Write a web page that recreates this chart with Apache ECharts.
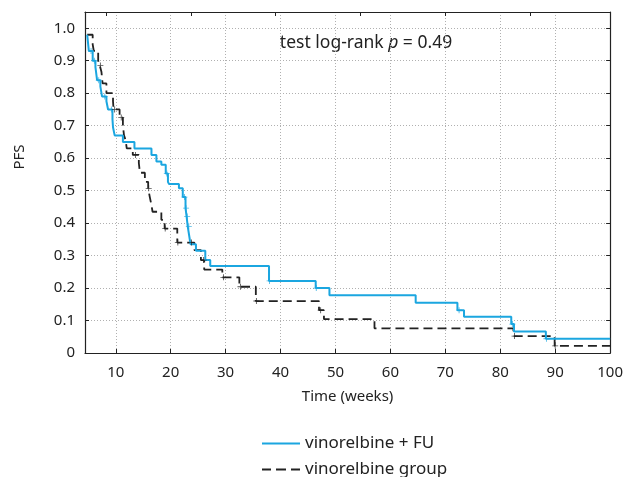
<!DOCTYPE html>
<html>
<head>
<meta charset="utf-8">
<script src="https://cdn.jsdelivr.net/npm/echarts@6/dist/echarts.min.js"></script>
<style>
html,body{margin:0;padding:0;background:#fff;}
#c{width:626px;height:477px;}
</style>
</head>
<body>
<div id="c"></div>
<script>
// ---- Data ----
var xTicks = [10, 20, 30, 40, 50, 60, 70, 80, 90, 100];
var yTicks = [0, 0.1, 0.2, 0.3, 0.4, 0.5, 0.6, 0.7, 0.8, 0.9, 1.0];
var topTicks = [8.3, 23.7, 39.1, 54.6, 70.0, 85.4];

var seriesNames = ['vinorelbine + FU', 'vinorelbine group'];

// Kaplan-Meier steps: [time (weeks), survival after event]
var comboTimes = [4.8, 5.1, 5.8, 6.3, 6.6, 7.2, 7.5, 8.3, 8.6, 9.4, 9.5, 9.8, 11.3, 13.4, 16.5, 17.4, 18.3, 19.1, 19.5, 19.7, 21.5, 22.2, 22.7, 22.9, 23.1, 23.4, 23.6, 24.6, 26.3, 27.2, 37.9, 46.4, 48.9, 64.6, 72.2, 73.4, 82.0, 82.5, 88.3, 100];
var comboSurv  = [0.98, 0.93, 0.90, 0.88, 0.84, 0.82, 0.79, 0.775, 0.75, 0.72, 0.695, 0.67, 0.65, 0.63, 0.61, 0.59, 0.58, 0.553, 0.527, 0.52, 0.507, 0.48, 0.446, 0.42, 0.39, 0.358, 0.335, 0.315, 0.286, 0.268, 0.222, 0.20, 0.178, 0.155, 0.132, 0.112, 0.089, 0.066, 0.044, 0.044];

var monoTimes = [4.8, 5.8, 6.0, 6.8, 7.1, 7.4, 7.6, 8.3, 9.5, 9.6, 10.7, 11.3, 11.5, 11.8, 12.0, 13.1, 14.2, 14.4, 15.3, 15.9, 16.2, 16.5, 16.7, 18.3, 18.9, 21.2, 24.3, 25.5, 26.1, 29.4, 32.5, 35.5, 47.0, 47.9, 57.1, 82.4, 89.9, 100];
var monoSurv  = [0.98, 0.95, 0.93, 0.90, 0.885, 0.865, 0.83, 0.80, 0.775, 0.75, 0.725, 0.70, 0.67, 0.655, 0.63, 0.61, 0.585, 0.555, 0.527, 0.507, 0.48, 0.455, 0.435, 0.41, 0.383, 0.34, 0.317, 0.286, 0.257, 0.233, 0.204, 0.16, 0.132, 0.104, 0.076, 0.052, 0.022, 0.022];

// Censored marks: [time, survival]
var comboCensTimes = [5.5, 6.1, 6.9, 8.0, 9.2, 19.3, 22.5, 22.8, 23.0, 23.3, 38.0, 46.5, 72.5, 82.2, 88.4];
var comboCensSurv  = [0.93, 0.90, 0.84, 0.79, 0.75, 0.553, 0.48, 0.446, 0.42, 0.39, 0.222, 0.20, 0.132, 0.089, 0.044];
var monoCensTimes = [7.2, 9.8, 11.0, 13.6, 16.0, 19.0, 21.3, 23.8, 26.0, 29.6, 32.7, 35.6, 47.3, 82.6, 90.0];
var monoCensSurv  = [0.885, 0.75, 0.725, 0.61, 0.507, 0.383, 0.34, 0.34, 0.286, 0.233, 0.204, 0.16, 0.132, 0.052, 0.022];

function zip(a, b) { return a.map(function (v, i) { return [v, b[i]]; }); }

var BLUE = '#1ba6e0';
var BLACK = '#222222';
var FONT = 'Noto Sans';
var plus = 'path://M4.3,0H5.7V10H4.3ZM0,4.3H10V5.7H0Z';

var chart = echarts.init(document.getElementById('c'), null, {renderer: 'canvas'});
chart.setOption({
  animation: false,
  backgroundColor: '#fff',
  textStyle: {fontFamily: FONT},
  grid: {left: 85, right: 13, top: 12, bottom: 124, containLabel: false},
  xAxis: [{
    type: 'value', min: 4.4, max: 100,
    axisLine: {show: true, onZero: false, lineStyle: {color: '#222', width: 1.2}},
    axisTick: {show: true, inside: true, length: 4, customValues: xTicks, lineStyle: {color: '#222'}},
    axisLabel: {customValues: xTicks, fontSize: 15, color: '#222', margin: 12, fontFamily: FONT},
    splitLine: {show: true, lineStyle: {color: '#b0b0b0', type: [1, 2], width: 1}},
    name: 'Time (weeks)', nameLocation: 'middle', nameGap: 36,
    nameTextStyle: {fontSize: 15, color: '#222', fontFamily: FONT}
  }, {
    type: 'value', min: 4.4, max: 100, position: 'top',
    axisLine: {show: true, onZero: false, lineStyle: {color: '#222', width: 1.2}},
    axisTick: {show: true, inside: true, length: 4, customValues: topTicks, lineStyle: {color: '#222'}},
    axisLabel: {show: false},
    splitLine: {show: false}
  }],
  yAxis: [{
    type: 'value', min: 0, max: 1.05,
    axisLine: {show: true, onZero: false, lineStyle: {color: '#222', width: 1.2}},
    axisTick: {show: true, inside: true, length: 4, customValues: yTicks, lineStyle: {color: '#222'}},
    axisLabel: {customValues: yTicks, fontSize: 15, color: '#222', margin: 10, fontFamily: FONT,
      formatter: function (v) { return v === 0 ? '0' : v.toFixed(1); }},
    splitLine: {show: true, lineStyle: {color: '#b0b0b0', type: [1, 2], width: 1}}
  }, {
    type: 'value', min: 0, max: 1.05, position: 'right',
    axisLine: {show: true, onZero: false, lineStyle: {color: '#222', width: 1.2}},
    axisTick: {show: true, inside: true, length: 4, customValues: yTicks, lineStyle: {color: '#222'}},
    axisLabel: {show: false},
    splitLine: {show: false}
  }],
  legend: [{
    orient: 'vertical', left: 257, top: 430, itemWidth: 38, itemHeight: 10,
    data: [{name: seriesNames[0], icon: 'path://M0,4H38V6H0Z', itemStyle: {color: BLUE}}],
    textStyle: {fontSize: 17, color: '#222', fontFamily: FONT}
  }, {
    orient: 'vertical', left: 257, top: 456, itemWidth: 38, itemHeight: 10,
    data: [{name: seriesNames[1], icon: 'path://M0,4H9V6H0ZM14,4H24V6H14ZM29,4H38V6H29Z', itemStyle: {color: BLACK}}],
    textStyle: {fontSize: 17, color: '#222', fontFamily: FONT}
  }],
  graphic: [{
    type: 'text', x: 20, y: 157, rotation: Math.PI / 2,
    style: {text: 'PFS', fontSize: 15, fontFamily: FONT, fill: '#222', align: 'center', verticalAlign: 'middle'}
  }, {
    type: 'text', x: 366, y: 43,
    style: {
      text: '{n|test log-rank }{i|p}{n| = 0.49}',
      align: 'center', verticalAlign: 'middle',
      rich: {
        n: {fontSize: 17.5, fontFamily: FONT, fill: '#222'},
        i: {fontSize: 17.5, fontFamily: FONT, fontStyle: 'italic', fill: '#222'}
      }
    }
  }],
  series: [{
    name: seriesNames[0], type: 'line', step: 'end', data: zip(comboTimes, comboSurv),
    showSymbol: false, symbol: 'none',
    lineStyle: {color: BLUE, width: 2}, itemStyle: {color: BLUE}, z: 3
  }, {
    name: seriesNames[1], type: 'line', step: 'end', data: zip(monoTimes, monoSurv),
    showSymbol: false, symbol: 'none',
    lineStyle: {color: BLACK, width: 1.8, type: [9, 5]}, itemStyle: {color: BLACK}, z: 2
  }, {
    name: 'c1', type: 'scatter', data: zip(comboCensTimes, comboCensSurv),
    symbol: plus, symbolSize: 6, itemStyle: {color: BLUE}, z: 4, silent: true
  }, {
    name: 'c2', type: 'scatter', data: zip(monoCensTimes, monoCensSurv),
    symbol: plus, symbolSize: 6, itemStyle: {color: BLACK}, z: 4, silent: true
  }]
});
</script>
</body>
</html>
